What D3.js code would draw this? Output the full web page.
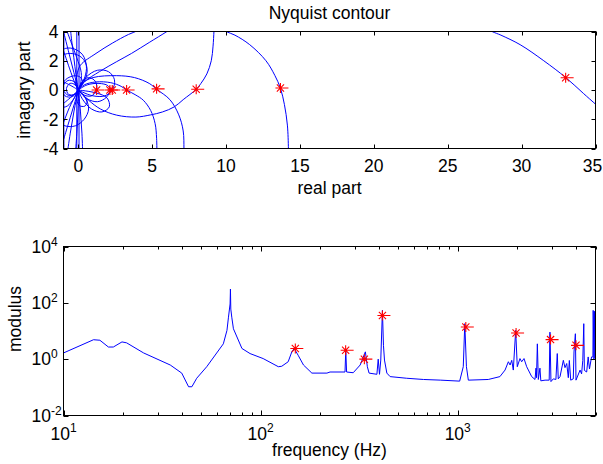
<!DOCTYPE html>
<html>
<head>
<meta charset="utf-8">
<script src="https://cdn.jsdelivr.net/npm/d3@7"></script>
<style>
  body { margin: 0; background: #fff; }
  svg text { font-family: "Liberation Sans", Arial, sans-serif; fill: #000; }
</style>
</head>
<body>
<svg id="chart" width="603" height="464"></svg>
<script>
// ---------- Nyquist panel ----------
const reTicks = [0, 5, 10, 15, 20, 25, 30, 35];
const imTicks = [-4, -2, 0, 2, 4];

// Branches of the Nyquist contour as [real, imag] pairs
const branchA = [[27.3,4.4],[28.0,4.0],[28.6,3.75],[29.9,3.1],[31.5,2.0],[33.0,0.84],[34.2,-0.25],[35.6,-1.5]];
const branchB = [[9.5,4.3],[10.0,4.0],[10.6,3.75],[11.6,3.1],[12.7,2.0],[13.3,1.0],[13.68,0.12],[13.95,-1.0],[14.15,-2.4],[14.22,-4.0],[14.22,-4.4]];
const branchC = [[9.2,4.4],[9.18,4.0],[9.12,3.0],[9.0,2.0],[8.7,1.1],[8.3,0.45],[7.98,0.05],[7.1,-0.66],[6.5,-1.15],[5.7,-1.5],[4.9,-1.7],[3.9,-1.85],[2.6,-1.72],[1.5,-1.3],[0.7,-0.7],[0.2,-0.2],[0,0]];
const branchD = [[0,0],[0.25,0.45],[1.0,0.85],[2.6,0.98],[3.8,0.85],[4.8,0.45],[5.3,0.05],[6.2,-0.66],[6.8,-1.7],[7.1,-2.8],[7.15,-4.0],[7.15,-4.4]];
const branchE = [[0,0],[0.4,0.35],[1.2,0.55],[2.2,0.5],[2.9,0.25],[3.27,0.0],[3.9,-0.35],[4.4,-0.7],[4.9,-1.4],[5.2,-2.3],[5.3,-3.3],[5.32,-4.4]];
const branchF = [[0,0],[0.43,0.57],[1.44,1.26],[2.6,1.94],[3.6,2.5],[4.8,3.25],[6.0,4.0],[6.6,4.4]];
const branchG = [[-0.2,0.3],[-0.1,1.0],[0.15,1.7],[1.2,2.5],[2.3,3.2],[3.4,3.8],[4.0,4.05],[4.6,4.4]];
const loopH = [[0,0],[0.5,0.85],[1.3,1.35],[2.05,1.25],[2.45,0.7],[2.3,0.0],[1.8,-0.4],[1.0,-0.4],[0.3,-0.15],[0,0]];
const loopI = [[0,0],[0.3,-0.65],[0.9,-1.3],[1.6,-1.5],[2.1,-1.15],[1.95,-0.55],[1.2,-0.2],[0,0]];
const loopJ = [[0.05,0.1],[0.45,0.9],[0.55,1.65],[0.3,2.4],[-0.25,2.8],[-0.85,2.85],[-1.4,2.5]];
const loopK = [[0,0],[-0.25,0.55],[-0.7,0.65],[-1.05,0.2],[-0.9,-0.4],[-0.4,-0.45],[0,0]];
const loopL = [[0,0],[0.25,0.55],[0.7,0.85],[1.15,0.6],[1.24,0.0],[0.9,-0.4],[0.4,-0.35],[0,0]];
const loopP = [[0,0],[0.3,0.5],[0.1,0.9],[-0.4,0.95],[-0.95,0.6],[-1.0,0.0],[-0.7,-0.35],[-0.2,-0.3],[0,0]];
const loopQ = [[0,0],[0.6,0.35],[1.4,0.45],[2.0,0.3],[2.14,0.0],[1.9,-0.5],[1.3,-0.8],[0.6,-0.6],[0,0]];
const loopR = [[0,0],[0.45,0.7],[0.6,1.4],[0.35,2.1],[-0.2,2.45],[-0.9,2.45],[-1.5,2.0]];
const loopS = [[0,0],[0.5,-0.6],[0.7,-1.3],[0.4,-2.0],[-0.2,-2.45],[-0.9,-2.45],[-1.5,-2.0]];
const loopT = [[0,0],[-0.2,0.35],[-0.55,0.45],[-0.8,0.1],[-0.65,-0.3],[-0.25,-0.3],[0,0]];
const loopU = [[0,0],[0.3,-0.3],[0.6,-0.75],[0.45,-1.1],[0.05,-1.05],[-0.1,-0.5],[0,0]];
const rayA = [[0,0],[-0.25,-0.9],[-0.55,-1.9],[-0.85,-2.9],[-1.15,-3.9]];
const rayB = [[0,0],[-0.45,-0.45],[-1.1,-1.0]];
const rayC = [[0.02,0],[-0.02,-1.5],[-0.1,-3.0],[-0.2,-4.4]];
const rayD = [[0,0],[-0.3,1.2],[-0.6,2.4],[-0.9,3.6],[-1.1,4.4]];
const rayE = [[0,0],[-0.5,0.3],[-1.1,0.6]];
const rayF = [[0,0],[-0.3,-1.5],[-0.55,-3.0],[-0.75,-4.4]];
const rayG = [[0,0],[-0.3,-0.6],[-0.75,-1.1],[-1.1,-1.2]];
const rayH = [[0,0],[-0.15,1.0],[-0.3,2.2],[-0.45,3.4],[-0.55,4.4]];
const rayI = [[0,0],[0.15,-1.5],[0.25,-3.0],[0.3,-4.4]];
const rayJ = [[-1.1,3.0],[-0.6,1.5],[-0.2,0.4],[0,0]];
const rayK = [[-1.1,-2.5],[-0.6,-1.2],[-0.15,-0.3],[0,0]];
const arcN = [[-0.9,4.4],[-0.5,3.3],[-0.1,2.2],[0.2,1.2],[0.15,0.4],[0,0]];
const vertA = [[-0.1,4.4],[-0.1,-4.4]];
const vertB = [[0.05,4.4],[0.05,-4.4]];
const edgeA = [[-0.97,4.4],[-0.98,0],[-0.97,-4.4]];
const nyquistBranches = [branchA, branchB, branchC, branchD, branchE, branchF, branchG,
  loopH, loopI, loopJ, loopK, loopL, loopP, loopQ, loopR, loopS, loopT, loopU,
  rayA, rayB, rayC, rayD, rayE, rayF, rayG, rayH, rayI, rayJ, rayK, arcN, vertA, vertB, edgeA];

// Resonance points picked on the contour
const peakRe = [1.24, 2.14, 2.30, 3.27, 5.30, 7.98, 13.68, 32.98];
const peakIm = [0.0, 0.0, 0.0, 0.0, 0.08, 0.05, 0.14, 0.84];

// ---------- FRF modulus panel ----------
const freqHz = [10, 14.2, 15.3, 16.9, 17.9, 19.8, 20.9, 25.5, 34.8, 39.8, 43.1, 44.8, 47.4, 53.3,
  64.7, 67.5, 68.7, 70.0, 70.3, 70.6, 71.4, 72.8, 80.4, 88.4, 103, 123, 128, 138, 144, 148, 155,
  165, 182, 217, 225, 268, 270.4, 273, 295, 320, 340, 348, 355, 389, 395, 401, 407, 415, 420, 425,
  437, 454, 551, 670, 820, 1023, 1067, 1086, 1107, 1132, 1429, 1637, 1738, 1807, 1844, 1880, 1914,
  1968, 2005, 2069, 2111, 2169, 2238, 2373, 2467, 2495, 2510, 2535, 2564, 2613, 2640, 2773,
  2911, 2937, 2972, 3055, 3148, 3199, 3236, 3304, 3434, 3501, 3573, 3640, 3683, 3743, 3857, 3890,
  3953, 3981, 4175, 4250, 4310, 4360, 4390, 4510, 4590, 4660, 4775, 4850, 4866, 4910, 4940, 4970, 5000];
const modulus = [1.66, 4.9, 4.7, 2.7, 2.7, 4.1, 3.8, 1.66, 0.62, 0.32, 0.105, 0.105, 0.21, 0.54,
  3.5, 10.5, 31, 91, 309, 60, 31, 12, 2.4, 1.58, 1.05, 0.54, 0.56, 0.81, 1.82, 2.4, 1.38,
  0.62, 0.32, 0.32, 0.35, 0.35, 2.1, 0.35, 0.33, 0.62, 1.82, 0.54, 0.32, 0.29, 1.0, 0.29, 0.93, 54, 3.1, 0.93,
  0.32, 0.24, 0.21, 0.19, 0.18, 0.166, 0.54, 18.2, 0.54, 0.18, 0.19, 0.24, 0.41, 0.81, 0.62, 0.91, 0.41,
  10.5, 0.54, 1.05, 0.81, 1.05, 0.54, 0.24, 0.19, 0.48, 0.22, 3.5, 0.19, 0.48, 0.17, 0.18,
  0.18, 9.1, 0.16, 0.2, 0.19, 1.58, 0.2, 0.24, 0.91, 0.5, 0.7, 0.22, 0.9, 0.18, 0.2, 1.8,
  8.0, 0.18, 0.41, 0.3, 0.9, 18.2, 0.4, 0.35, 1.2, 0.45, 1.2, 1.2, 54, 1.0, 50, 1.1, 40];

const peakFreq = [150, 270, 336, 415, 1099, 1977, 2958, 3981];
const peakMod = [2.38, 2.08, 1.0, 35.6, 13.8, 8.5, 4.95, 3.1];

const freqTickExp = [1, 2, 3];
const modTickExp = [-2, 0, 2, 4];
const freqMinor = [20,30,40,50,60,70,80,90,200,300,400,500,600,700,800,900,2000,3000,4000,5000];

// ---------- drawing ----------
const svg = d3.select("#chart");
const FS = 17.5, SUP = 12;
const BLUE = "#0000ff", RED = "#ff0000";

const left = 63.5, right = 595.5;
const top1 = 31.5, bot1 = 148.5;
const top2 = 246.5, bot2 = 415.5;

const x1 = d3.scaleLinear().domain([-1, 35]).range([left, right]);
const y1 = d3.scaleLinear().domain([-4, 4]).range([bot1, top1]);
const x2 = d3.scaleLog().domain([10, 5000]).range([left, right]);
const y2 = d3.scaleLog().domain([1e-2, 1e4]).range([bot2, top2]);

const defs = svg.append("defs");
defs.append("clipPath").attr("id", "clipTop").append("rect")
  .attr("x", left).attr("y", top1).attr("width", right - left).attr("height", bot1 - top1);
defs.append("clipPath").attr("id", "clipBot").append("rect")
  .attr("x", left).attr("y", top2).attr("width", right - left).attr("height", bot2 - top2);

function asterisk(g, cx, cy) {
  const r = 5, d = 3.6;
  g.append("path")
    .attr("d", `M${cx - r},${cy}H${cx + r + 3}M${cx},${cy - r}V${cy + r}` +
               `M${cx - d},${cy - d}L${cx + d},${cy + d}M${cx - d},${cy + d}L${cx + d},${cy - d}`)
    .attr("stroke", RED).attr("stroke-width", 1.1).attr("fill", "none");
}

// ---- top panel ----
const gTop = svg.append("g");
const plotTop = gTop.append("g").attr("clip-path", "url(#clipTop)");
const nyqLine = d3.line().x(d => x1(d[0])).y(d => y1(d[1])).curve(d3.curveCatmullRom.alpha(0.5));
plotTop.selectAll("path.branch").data(nyquistBranches).join("path")
  .attr("class", "branch").attr("d", nyqLine)
  .attr("fill", "none").attr("stroke", BLUE).attr("stroke-width", 1);
peakRe.forEach((re, i) => asterisk(plotTop, x1(re), y1(peakIm[i])));

// ticks (inward, all four sides)
const tk = 4;
const tickG1 = gTop.append("g").attr("stroke", "#000").attr("stroke-width", 1);
reTicks.forEach(v => {
  const x = Math.round(x1(v)) + 0.5;
  tickG1.append("line").attr("x1", x).attr("x2", x).attr("y1", bot1).attr("y2", bot1 - tk);
  tickG1.append("line").attr("x1", x).attr("x2", x).attr("y1", top1).attr("y2", top1 + tk);
});
imTicks.forEach(v => {
  const y = Math.round(y1(v)) + 0.5;
  tickG1.append("line").attr("x1", left).attr("x2", left + tk).attr("y1", y).attr("y2", y);
  tickG1.append("line").attr("x1", right).attr("x2", right - tk).attr("y1", y).attr("y2", y);
});
gTop.append("rect").attr("x", left).attr("y", top1).attr("width", right - left).attr("height", bot1 - top1)
  .attr("fill", "none").attr("stroke", "#000").attr("stroke-width", 1);

// the last label is kept inside the page edge
gTop.selectAll("text.xt").data(reTicks).join("text").attr("class", "xt")
  .attr("x", d => Math.min(x1(d), 592.5)).attr("y", 172).attr("text-anchor", "middle")
  .attr("font-size", FS).text(d => d);
gTop.selectAll("text.yt").data(imTicks).join("text").attr("class", "yt")
  .attr("x", 58.5).attr("y", d => y1(d) + 6.3).attr("text-anchor", "end")
  .attr("font-size", FS).text(d => d);
gTop.append("text").attr("x", (left + right) / 2).attr("y", 19).attr("text-anchor", "middle")
  .attr("font-size", FS).text("Nyquist contour");
gTop.append("text").attr("x", (left + right) / 2).attr("y", 194).attr("text-anchor", "middle")
  .attr("font-size", FS).text("real part");
gTop.append("text").attr("transform", `translate(30,${(top1 + bot1) / 2}) rotate(-90)`)
  .attr("text-anchor", "middle").attr("font-size", FS).text("imagary part");

// ---- bottom panel ----
const gBot = svg.append("g");
const plotBot = gBot.append("g").attr("clip-path", "url(#clipBot)");
const frfLine = d3.line().x((d, i) => x2(freqHz[i])).y(d => y2(d));
plotBot.append("path").datum(modulus).attr("d", frfLine)
  .attr("fill", "none").attr("stroke", BLUE).attr("stroke-width", 1).attr("stroke-linejoin", "round");
peakFreq.forEach((f, i) => asterisk(plotBot, x2(f), y2(peakMod[i])));

const tickG2 = gBot.append("g").attr("stroke", "#000").attr("stroke-width", 1);
freqTickExp.forEach(e => {
  const x = Math.round(x2(Math.pow(10, e))) + 0.5;
  tickG2.append("line").attr("x1", x).attr("x2", x).attr("y1", bot2).attr("y2", bot2 - 5);
  tickG2.append("line").attr("x1", x).attr("x2", x).attr("y1", top2).attr("y2", top2 + 5);
});
freqMinor.forEach(f => {
  const x = Math.round(x2(f)) + 0.5;
  tickG2.append("line").attr("x1", x).attr("x2", x).attr("y1", bot2).attr("y2", bot2 - 3);
  tickG2.append("line").attr("x1", x).attr("x2", x).attr("y1", top2).attr("y2", top2 + 3);
});
modTickExp.forEach(e => {
  const y = Math.round(y2(Math.pow(10, e))) + 0.5;
  tickG2.append("line").attr("x1", left).attr("x2", left + 5).attr("y1", y).attr("y2", y);
  tickG2.append("line").attr("x1", right).attr("x2", right - 5).attr("y1", y).attr("y2", y);
});
gBot.append("rect").attr("x", left).attr("y", top2).attr("width", right - left).attr("height", bot2 - top2)
  .attr("fill", "none").attr("stroke", "#000").attr("stroke-width", 1);

// power-of-ten labels
freqTickExp.forEach(e => {
  const t = gBot.append("text").attr("x", x2(Math.pow(10, e))).attr("y", 440)
    .attr("text-anchor", "middle").attr("font-size", FS);
  t.append("tspan").text("10");
  t.append("tspan").attr("dy", -8).attr("font-size", SUP).text(e);
});
modTickExp.forEach(e => {
  const t = gBot.append("text").attr("x", 31.5).attr("y", y2(Math.pow(10, e)) + 6)
    .attr("font-size", FS);
  t.append("tspan").text("10");
  t.append("tspan").attr("dy", -7).attr("font-size", SUP).text(e);
});
gBot.append("text").attr("x", (left + right) / 2).attr("y", 456).attr("text-anchor", "middle")
  .attr("font-size", FS).text("frequency (Hz)");
gBot.append("text").attr("transform", "translate(21,319) rotate(-90)")
  .attr("text-anchor", "middle").attr("font-size", FS).text("modulus");
</script>
</body>
</html>
